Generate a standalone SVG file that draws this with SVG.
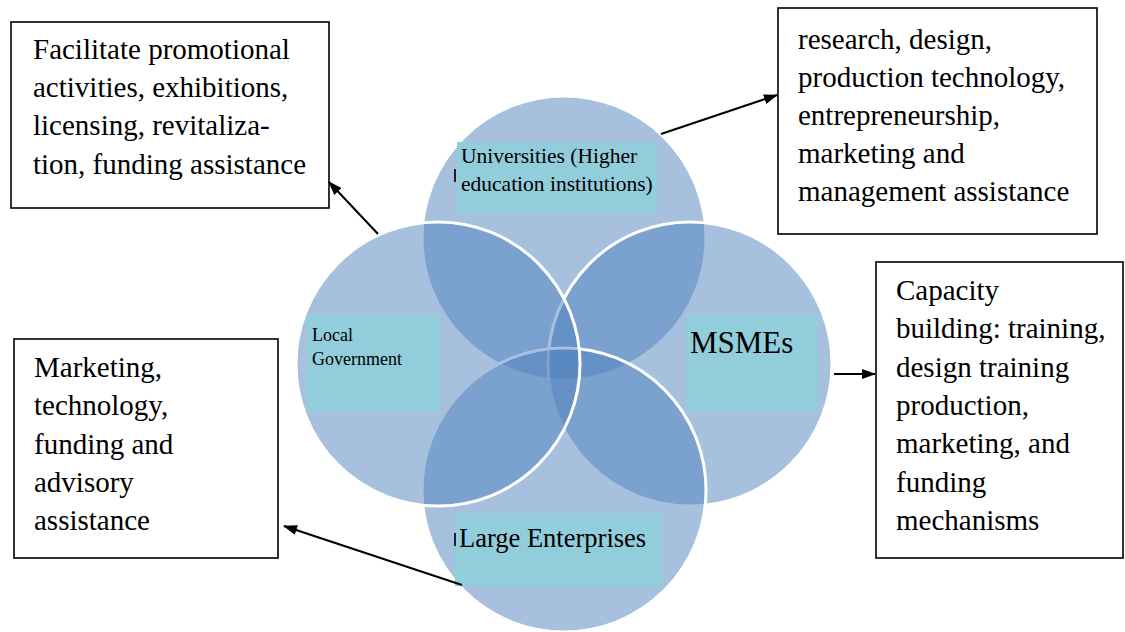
<svg xmlns="http://www.w3.org/2000/svg" width="1125" height="632" viewBox="0 0 1125 632">
  <style>
    .circle { fill: #4F81BD; fill-opacity: 0.5; stroke: #ffffff; stroke-width: 3; }
    .label { fill: #92CDDC; }
    .box { fill: #ffffff; stroke: #000000; stroke-width: 1.6; }
    text { font-family: "Liberation Serif", "Times New Roman", serif; fill: #000000; }
    .wire { stroke: #000000; stroke-width: 2; fill: none; marker-end: url(#head); }
    .tick { stroke: #222222; stroke-width: 2; }
  </style>
  <defs>
    <marker id="head" viewBox="0 0 14 10" refX="13" refY="5" markerWidth="14" markerHeight="10" markerUnits="userSpaceOnUse" orient="auto">
      <path d="M0,0 L14,5 L0,10 Z" fill="#000000"/>
    </marker>
  </defs>

  <!-- overlapping stakeholder circles -->
  <g id="circle-universities"><circle class="circle" cx="564" cy="238" r="142"/></g>
  <g id="circle-msmes"><circle class="circle" cx="690" cy="364" r="142"/></g>
  <g id="circle-large-enterprises"><circle class="circle" cx="564" cy="490" r="142"/></g>
  <g id="circle-local-government"><circle class="circle" cx="438" cy="364" r="142"/></g>

  <!-- circle labels -->
  <g id="label-universities" font-family="Liberation Serif, serif" font-size="21.5">
    <rect class="label" x="457" y="142" width="200" height="71"/>
    <line class="tick" x1="455" y1="169" x2="455" y2="182"/>
    <text x="461" y="163">Universities (Higher</text>
    <text x="461" y="191">education institutions)</text>
  </g>
  <g id="label-local-government" font-family="Liberation Serif, serif" font-size="18">
    <rect class="label" x="307" y="314" width="133" height="98"/>
    <text x="312" y="341">Local</text>
    <text x="312" y="365">Government</text>
  </g>
  <g id="label-msmes" font-family="Liberation Serif, serif" font-size="31">
    <rect class="label" x="686" y="314" width="132" height="98"/>
    <text x="690" y="353">MSMEs</text>
  </g>
  <g id="label-large-enterprises" font-family="Liberation Serif, serif" font-size="26.5">
    <rect class="label" x="455" y="513" width="207" height="73"/>
    <line class="tick" x1="455" y1="533" x2="455" y2="546"/>
    <text x="459" y="547">Large Enterprises</text>
  </g>

  <!-- role description boxes -->
  <g id="box-government-role" font-family="Liberation Serif, serif" font-size="29">
    <rect class="box" x="11" y="22" width="318" height="186"/>
    <text x="33" y="59">Facilitate promotional</text>
    <text x="33" y="97">activities, exhibitions,</text>
    <text x="33" y="135">licensing, revitaliza-</text>
    <text x="33" y="174">tion, funding assistance</text>
  </g>
  <g id="box-university-role" font-family="Liberation Serif, serif" font-size="29">
    <rect class="box" x="778" y="8" width="319" height="226"/>
    <text x="798" y="49">research, design,</text>
    <text x="798" y="87">production technology,</text>
    <text x="798" y="125">entrepreneurship,</text>
    <text x="798" y="163">marketing and</text>
    <text x="798" y="201">management assistance</text>
  </g>
  <g id="box-msme-role" font-family="Liberation Serif, serif" font-size="29">
    <rect class="box" x="876" y="262" width="247" height="296"/>
    <text x="896" y="300">Capacity</text>
    <text x="896" y="338">building: training,</text>
    <text x="896" y="377">design training</text>
    <text x="896" y="415">production,</text>
    <text x="896" y="453">marketing, and</text>
    <text x="896" y="492">funding</text>
    <text x="896" y="530">mechanisms</text>
  </g>
  <g id="box-enterprise-role" font-family="Liberation Serif, serif" font-size="29">
    <rect class="box" x="14" y="339" width="264" height="219"/>
    <text x="34" y="377">Marketing,</text>
    <text x="34" y="415">technology,</text>
    <text x="34" y="454">funding and</text>
    <text x="34" y="492">advisory</text>
    <text x="34" y="530">assistance</text>
  </g>

  <!-- connectors -->
  <g id="connectors">
    <line class="wire" x1="378" y1="234" x2="329" y2="182"/>
    <line class="wire" x1="661" y1="134" x2="777" y2="95"/>
    <line class="wire" x1="834" y1="374" x2="875" y2="374"/>
    <line class="wire" x1="462" y1="585" x2="284" y2="526"/>
  </g>
</svg>
